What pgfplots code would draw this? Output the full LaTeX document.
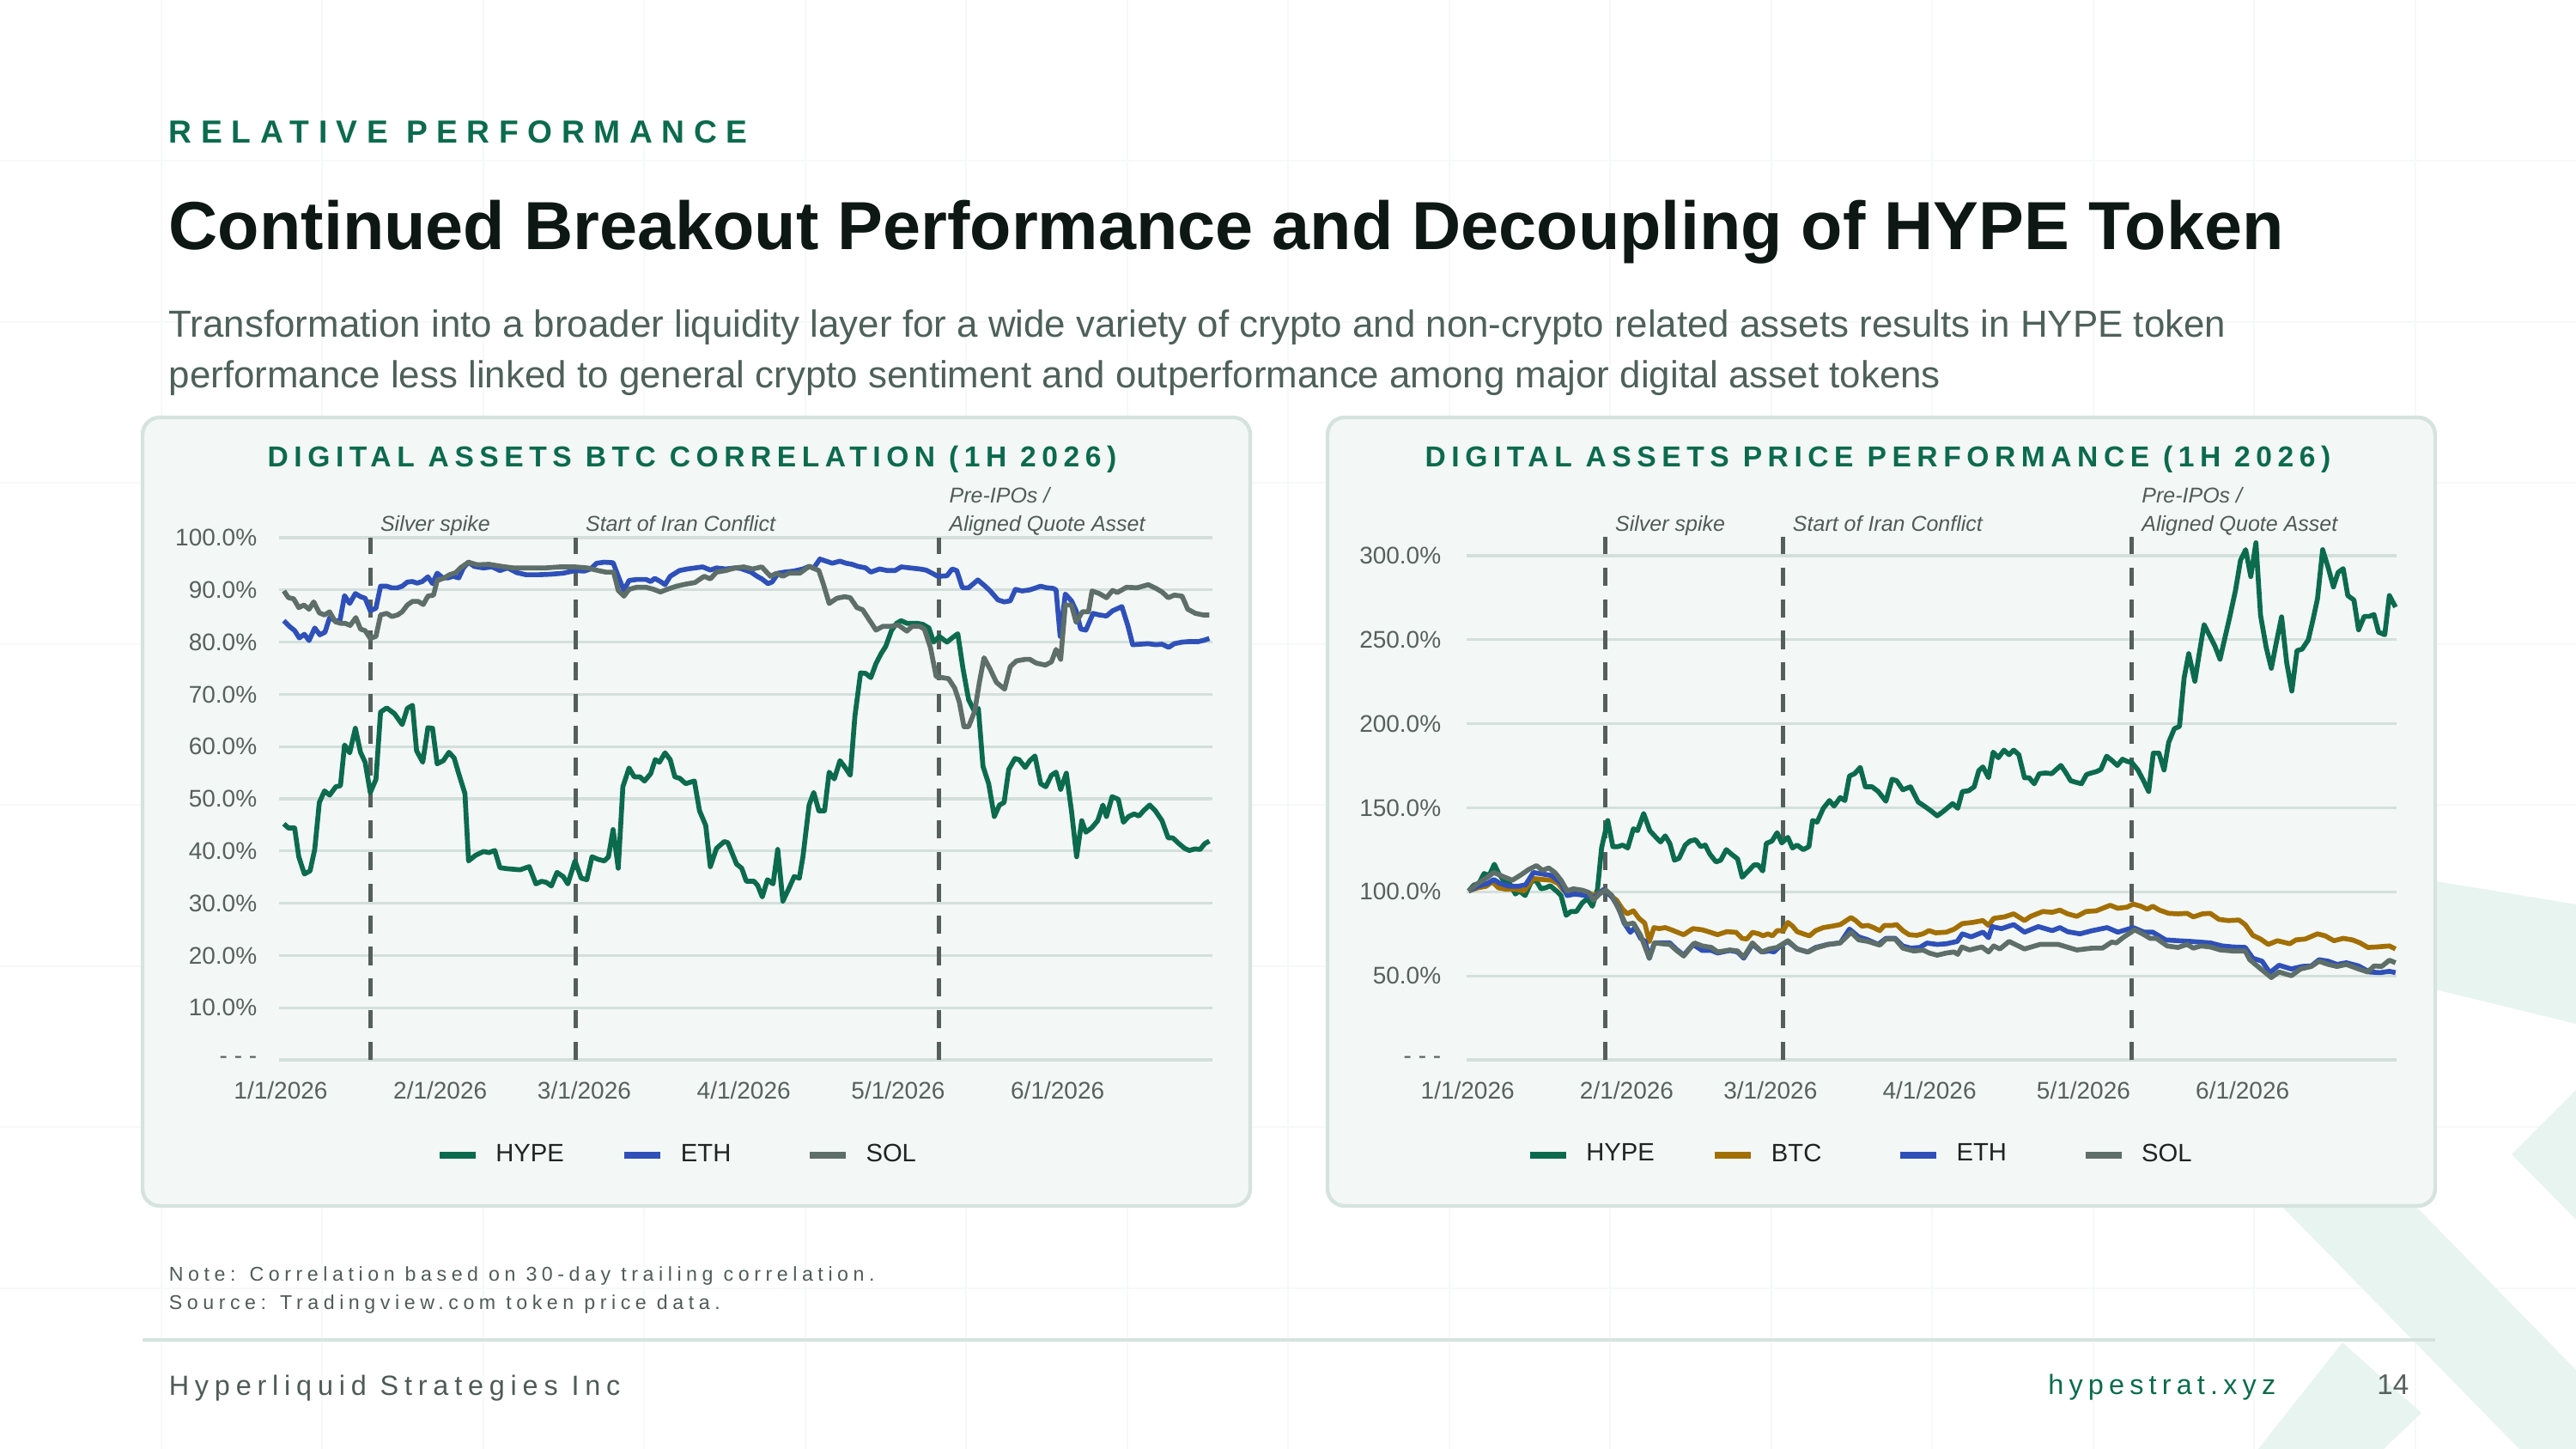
\documentclass[border=0pt]{standalone}
\usepackage{fontspec}
\setmainfont{Liberation Sans}
\usepackage{pgfplots}
\pgfplotsset{compat=1.18}
\definecolor{hype}{HTML}{0B6B4C}
\definecolor{eth}{HTML}{2E50B8}
\definecolor{sol}{HTML}{5E6E69}
\definecolor{btc}{HTML}{A26F02}
\definecolor{dashc}{HTML}{545F5B}
\definecolor{gridc}{HTML}{D3DFDB}
\definecolor{panelf}{HTML}{F3F7F6}
\definecolor{paneld}{HTML}{D5E3DE}
\definecolor{tickc}{HTML}{56615D}
\definecolor{legc}{HTML}{1E2422}
\definecolor{brand}{HTML}{0B6B4C}
\definecolor{titlec}{HTML}{0D1714}
\definecolor{subc}{HTML}{4E605A}
\definecolor{mint}{HTML}{E8F4EF}
\definecolor{bggrid}{HTML}{F6F9F8}
\definecolor{annc}{HTML}{4F5B57}
\pgfplotsset{
  slide/.style={
    scale only axis, clip=false,
    axis line style={draw=none}, tick style={draw=none},
    ymajorgrids, major grid style={draw=gridc, line width=0.8pt},
    xtick={0,31,59,90,120,151},
    xticklabels={1/1/2026,2/1/2026,3/1/2026,4/1/2026,5/1/2026,6/1/2026},
    xticklabel style={font=\fontsize{7}{8}\selectfont, text=tickc, anchor=north, inner sep=0pt, yshift=-6pt},
    yticklabel style={font=\fontsize{7}{8}\selectfont, text=tickc, anchor=east, inner sep=0pt},
    legend columns=-1,
    legend style={draw=none, fill=none, inner sep=0pt, column sep=0pt,
      font=\fontsize{7.3}{8.5}\selectfont, text=legc, nodes={inner sep=2.6pt},
      /tikz/every odd column/.append style={column sep=2.2pt}},
    legend image code/.code={\draw[##1, line width=2.2pt, line cap=butt] (0pt,0pt) -- (10.5pt,0pt);},
  },
  vl/.style={dashc, line width=1.25pt, dash pattern=on 5.3pt off 3.9pt, forget plot},
  ser/.style={line width=1.42pt, line join=round},
}
\newcommand{\ann}{\fontsize{6.25}{7.5}\selectfont\itshape\color{annc}}
\begin{document}
\begin{tikzpicture}
\clip (0,0) rectangle (750pt,421.75pt);
\fill[white] (0,0) rectangle (750pt,421.75pt);
\begin{scope}[x=0.25pt,y=-0.25pt,shift={(0pt,421.75pt)}]
  % faint background grid
  \foreach \k in {1,...,15} {\draw[bggrid, line width=0.5pt] (187.5*\k,0) -- (187.5*\k,1687);}
  \foreach \k in {1,...,8} {\draw[bggrid, line width=0.5pt] (0,187.5*\k) -- (3000,187.5*\k);}
  % decorative logo shapes
  \fill[mint] (2600,1005) -- (2836,1026) -- (3000,1053) -- (3000,1192) -- (2836,1152) -- (2600,1130) -- cycle;
  \fill[mint] (2925,1344) -- (3000,1269) -- (3000,1420) -- cycle;
  \fill[mint] (2560,1300) -- (2700,1300) -- (2813,1404) -- (3000,1595) -- (3000,1687) -- (2934,1687) -- (2657,1404) -- cycle;
  \fill[mint] (2630,1687) -- (2728,1563) -- (2820,1645) -- (2776,1687) -- cycle;
  % panels
  \draw[paneld, fill=panelf, line width=1.1pt, rounded corners=5pt] (166,486) rectangle (1456,1404);
  \draw[paneld, fill=panelf, line width=1.1pt, rounded corners=5pt] (1546,486) rectangle (2836,1404);
  % header texts
  \node[anchor=base west, inner sep=0pt, text=brand, font=\fontsize{9.3}{11}\selectfont\bfseries\addfontfeature{LetterSpace=28.5}] at (196,167) {RELATIVE PERFORMANCE};
  \node[anchor=base west, inner sep=0pt, text=titlec, font=\fontsize{19.8}{24}\selectfont\bfseries] at (196,291) {Continued Breakout Performance and Decoupling of HYPE Token};
  \node[anchor=base west, inner sep=0pt, text=subc, font=\fontsize{10.97}{13}\selectfont] at (196,393) {Transformation into a broader liquidity layer for a wide variety of crypto and non-crypto related assets results in HYPE token};
  \node[anchor=base west, inner sep=0pt, text=subc, font=\fontsize{10.97}{13}\selectfont] at (196,452) {performance less linked to general crypto sentiment and outperformance among major digital asset tokens};
  % panel titles
  \node[anchor=base, inner sep=0pt, text=brand, font=\fontsize{8.4}{10}\selectfont\bfseries\addfontfeature{LetterSpace=19.5}] at (806,544) {DIGITAL ASSETS BTC CORRELATION (1H 2026)};
  \node[anchor=base, inner sep=0pt, text=brand, font=\fontsize{8.4}{10}\selectfont\bfseries\addfontfeature{LetterSpace=19.5}] at (2187,544) {DIGITAL ASSETS PRICE PERFORMANCE (1H 2026)};
  % notes and footer
  \node[anchor=base west, inner sep=0pt, text=annc, font=\fontsize{5.8}{7}\selectfont\addfontfeature{LetterSpace=24}] at (196,1492) {Note: Correlation based on 30-day trailing correlation.};
  \node[anchor=base west, inner sep=0pt, text=annc, font=\fontsize{5.8}{7}\selectfont\addfontfeature{LetterSpace=24}] at (196,1525) {Source: Tradingview.com token price data.};
  \draw[paneld, line width=0.8pt] (166,1560) -- (2836,1560);
  \node[anchor=base west, inner sep=0pt, text=annc, font=\fontsize{8.1}{10}\selectfont\addfontfeature{LetterSpace=21}] at (196,1625) {Hyperliquid Strategies Inc};
  \node[anchor=base east, inner sep=0pt, text=brand, font=\fontsize{8.1}{10}\selectfont\addfontfeature{LetterSpace=19}] at (2651,1624) {hypestrat.xyz};
  \node[anchor=base east, inner sep=0pt, text=tickc, font=\fontsize{8.3}{10}\selectfont] at (2806,1624) {14};
\end{scope}

% ---------------- Left chart ----------------
\begin{axis}[slide,
  at={(81.25pt,113.25pt)}, anchor=south west,
  width=271.75pt, height=152pt,
  xmin=-0.33, xmax=181.1, ymin=0, ymax=100,
  ytick={0,10,20,30,40,50,60,70,80,90,100},
  yticklabels={- - -,10.0\%,20.0\%,30.0\%,40.0\%,50.0\%,60.0\%,70.0\%,80.0\%,90.0\%,100.0\%},
  yticklabel style={xshift=-6.25pt},
  legend style={at={(0.167,-0.1826)}, anchor=west},
]
\addplot[vl] coordinates {(17.4,0) (17.4,100)};
\addplot[vl] coordinates {(57.3,0) (57.3,100)};
\addplot[vl] coordinates {(128.0,0) (128.0,100)};
\addplot[ser, hype] coordinates {(0.6,45.2)(1.5,44.4)(2.7,44.4)(3.5,38.9)(4.6,35.6)(5.7,36.2)(6.6,40.3)(7.5,49.3)(8.5,51.5)(9.5,50.7)(10.7,52.3)(11.6,52.5)(12.4,60.3)(13.4,58.8)(14.5,63.5)(15.5,58.9)(16.4,57)(17.4,51.2)(18.5,53.7)(19.4,66.6)(20.6,67.4)(22.1,66.3)(23.6,64.2)(24.6,67.3)(25.6,67.9)(26.4,59.2)(27.6,57)(28.6,63.6)(29.5,63.5)(30.4,56.7)(31.6,57.3)(32.7,58.9)(33.7,57.8)(34.6,54.8)(35.8,51)(36.5,38.1)(37.9,39.2)(39.4,39.9)(40.5,39.7)(41.6,40.1)(42.6,36.8)(44.1,36.6)(46.5,36.4)(48.3,37)(49.6,33.7)(50.7,34.2)(51.6,34)(52.6,33.3)(53.7,35.9)(54.9,35.1)(55.8,33.7)(57.2,38.1)(58.4,34.8)(59.5,34.5)(60.5,38.9)(61.7,38.4)(62.9,38.1)(63.7,38.9)(64.6,44.1)(65.6,36.7)(66.5,52.3)(67.7,55.9)(68.7,54.2)(69.8,54.2)(70.7,53.4)(71.9,54.8)(72.8,57.5)(73.6,57)(74.7,58.8)(75.7,57.5)(76.6,54.2)(77.6,53.9)(78.7,52.9)(80.4,53.4)(81.4,47.7)(82.6,44.9)(83.5,37)(84.7,40.5)(86.2,41.8)(86.9,41.6)(88.6,37.5)(89.6,36.7)(90.5,34.2)(92,34.2)(92.7,33.4)(93.6,31.2)(94.6,34.5)(95.7,33.7)(96.6,40.3)(97.6,30.4)(98.8,32.9)(99.8,35.1)(100.8,34.8)(101.5,38.9)(102.7,48.8)(103.6,51.2)(104.6,47.7)(105.7,47.7)(106.6,55.1)(107.6,53.8)(108.7,57.3)(109.7,56)(110.7,54.5)(111.6,65.8)(112.7,74.1)(113.7,74)(114.7,73.2)(115.7,75.9)(116.7,77.8)(117.6,79.2)(118.7,82.2)(119.7,83.6)(120.6,84.1)(121.7,83.6)(122.7,83.6)(123.7,83.6)(124.8,83.4)(126,82.7)(126.9,80)(128,81.1)(129.5,80)(130.5,80.8)(131.6,81.6)(132.6,75)(133.7,69)(134.8,66.8)(135.6,67.3)(136.5,56.2)(137.6,52.9)(138.7,46.6)(139.7,48.8)(140.6,49.3)(141.5,55.6)(142.7,57.7)(143.5,57.5)(144.7,56)(145.6,57.3)(146.6,58.2)(147.7,52.9)(148.7,52.3)(149.8,54.5)(150.7,55.1)(151.6,51.8)(152.7,54.9)(153.7,47.7)(154.7,38.9)(155.7,45.8)(156.5,43.6)(157.6,44.4)(158.8,45.8)(159.8,48.8)(160.5,46.6)(161.6,50.4)(162.8,49.9)(163.8,45.5)(164.8,46.6)(165.9,47.1)(166.8,46.7)(167.8,47.8)(168.9,48.8)(170,47.7)(171.3,45.8)(172.5,42.5)(173.4,42.5)(174.6,41.4)(175.7,40.5)(176.6,40.1)(177.7,40.4)(178.7,40.3)(179.6,41.4)(180.5,41.9)};
\addlegendentry{\makebox[33.8pt][l]{HYPE}}
\addplot[ser, eth] coordinates {(0.6,84.1)(1.7,83)(2.7,82.2)(3.6,80.8)(4.6,81.5)(5.5,80.3)(6.6,82.7)(7.6,81.4)(8.6,81.9)(9.5,84.7)(10.6,84.1)(11.5,84.1)(12.4,88.9)(13.4,87.4)(14.5,89.3)(15.5,88.7)(16.4,88.4)(17.4,86)(18.5,86.5)(19.4,90.7)(20.6,90.7)(21.5,90.4)(22.7,90.4)(23.6,90.7)(24.6,91.5)(25.6,91.6)(26.5,91.3)(27.5,91.6)(28.6,92.5)(29.5,91.2)(30.4,93.2)(31.5,92.3)(32.5,92.3)(33.5,92.6)(34.6,92.3)(35.5,94.2)(36.5,95.3)(37.6,94.5)(39.4,94.2)(41.1,94.4)(42.6,93.7)(44.1,94.2)(45.9,93.3)(47.7,92.9)(50.1,92.9)(52.5,93)(54.9,93.2)(57.2,93.7)(59,93.6)(60.2,94)(61.4,95.1)(62.9,95.3)(64.6,95.2)(65.6,92.6)(66.7,89.9)(67.7,91.8)(69.2,92)(71,92)(71.9,91.6)(72.7,92.2)(73.8,91.6)(74.7,91)(75.7,92.6)(77.5,93.7)(79,94)(80.5,94.2)(82,94.4)(83.5,93.8)(84.7,94.2)(86.5,94)(88.3,94.2)(89.4,94.1)(91.4,93.4)(92.6,92.6)(93.5,92.1)(94.7,91.2)(95.5,91.5)(96.7,93.2)(97.9,93.4)(99.7,93.6)(101.5,94)(102.7,94.5)(103.6,94.2)(104.8,95.9)(106,95.5)(107.2,95.1)(108.7,95.5)(109.9,95.1)(111,94.9)(112.2,94.5)(113.7,94.2)(114.7,93.4)(116.4,94)(117.9,93.7)(119.4,93.7)(120.6,94.4)(122.4,94.2)(124.2,94)(125.4,93.8)(126.6,93.2)(127.7,92.6)(129.5,92.7)(130.5,94)(131.4,93.7)(132.5,90.4)(133.7,90.4)(135.5,91.9)(136.7,90.9)(137.9,89.8)(139.4,88.1)(140.6,87.7)(141.8,87.9)(142.8,90.1)(144.1,89.8)(145.6,90)(147.7,90.7)(148.9,90.4)(150.1,90.3)(150.7,90)(151.5,81.1)(152.5,89.2)(153.7,87.9)(154.6,86)(155.5,82.5)(156.5,82.3)(157.9,85.5)(159.1,85.2)(160.5,85)(161.7,86)(163.5,86.8)(164.7,83)(165.6,79.5)(167.1,79.6)(168.6,79.7)(170.1,79.5)(171.3,79.6)(172.6,79)(173.7,79.7)(175.2,80)(176.6,80.1)(178.4,80.1)(179.6,80.4)(180.5,80.7)};
\addlegendentry{\makebox[33.8pt][l]{ETH}}
\addplot[ser, sol] coordinates {(0.6,89.8)(1.5,88.5)(2.5,88.3)(3.5,86.6)(4.5,87.1)(5.5,86.3)(6.4,87.7)(7.5,85.6)(8.5,85.2)(9.5,85.8)(10.6,83.9)(11.6,83.6)(12.5,83.6)(13.5,83.2)(14.6,84.7)(15.5,82.5)(16.4,82.2)(17.4,80.7)(18.5,81.1)(19.4,85.2)(20.6,85.5)(21.6,84.9)(22.7,85.2)(23.6,85.8)(24.6,87.1)(25.6,87.8)(26.7,87.8)(27.7,87.2)(28.6,88.8)(29.7,89)(30.4,91.8)(31.6,92.2)(32.8,92.9)(34,93.3)(34.9,94.2)(36.5,95.3)(38.2,94.8)(40.5,94.9)(42.9,94.5)(45.3,94.2)(48.3,94.2)(51.3,94.2)(54.3,94.4)(57.2,94.4)(59.6,94.2)(61.7,93.7)(63.2,93.4)(64.7,93.4)(65.6,89.9)(66.7,88.8)(67.7,90.1)(69.2,90.5)(71,90.5)(72.5,90.1)(73.8,89.6)(75.1,90.1)(76.9,90.7)(78.7,91.1)(80.5,91.4)(82.3,92.6)(83.5,92.1)(84.7,93.4)(86.5,93.7)(88.3,94.2)(90,94.4)(91.7,94)(93.5,94.4)(95.2,92.6)(96.4,93.2)(97.6,92.6)(98.8,93.2)(100.9,93.2)(102.7,94.5)(104.6,93.7)(105.6,90.7)(106.6,87.4)(108.1,88.4)(109.6,88.7)(110.7,88.5)(112,86.6)(113.1,86.2)(114.3,84.4)(115.7,82.3)(117,83)(118.5,83)(120,83.3)(121.7,82.1)(122.7,83)(124.2,83)(125.1,82.5)(126.3,78.9)(127.4,73.4)(128.6,73.2)(129.8,73)(131,71.2)(131.9,68.5)(132.8,63.8)(133.7,63.8)(134.9,66.8)(135.8,72.3)(136.7,77)(137.9,74.8)(139.1,72.3)(140.7,71)(141.8,75.3)(143,76.4)(144.7,76.7)(145.6,76.7)(146.8,76)(148.6,75.6)(149.8,76.2)(150.7,78.6)(151.6,76.7)(152.5,87.1)(153.7,87.1)(154.6,83.8)(155.8,85.8)(157,85.8)(157.7,89.8)(159.1,89.3)(160.5,88.5)(161.7,89.9)(162.6,89.5)(164.4,90.5)(166.5,90.4)(168.6,91)(170.1,90.3)(171.3,89.6)(172.5,88.5)(173.7,89)(175.2,88.8)(176.3,86.3)(177.8,85.5)(179.3,85.2)(180.5,85.2)};
\addlegendentry{\makebox[33.8pt][l]{SOL}}
\node[anchor=base west, inner sep=0pt, xshift=2.75pt, font=\ann] at (axis cs:17.4,101.3) {Silver spike};
\node[anchor=base west, inner sep=0pt, xshift=2.75pt, font=\ann] at (axis cs:57.3,101.3) {Start of Iran Conflict};
\node[anchor=base west, inner sep=0pt, xshift=2.75pt, font=\ann] at (axis cs:128.0,106.6) {Pre-IPOs /};
\node[anchor=base west, inner sep=0pt, xshift=2.75pt, font=\ann] at (axis cs:128.0,101.3) {Aligned Quote Asset};
\end{axis}

% ---------------- Right chart ----------------
\begin{axis}[slide,
  at={(427pt,113.25pt)}, anchor=south west,
  width=270.75pt, height=146.75pt,
  xmin=-0.2, xmax=181, ymin=0, ymax=300,
  ytick={0,50,100,150,200,250,300},
  yticklabels={- - -,50.0\%,100.0\%,150.0\%,200.0\%,250.0\%,300.0\%},
  yticklabel style={xshift=-7.25pt},
  legend style={at={(0.0633,-0.189)}, anchor=west},
]
\addplot[vl] coordinates {(26.8,0) (26.8,311)};
\addplot[vl] coordinates {(61.4,0) (61.4,311)};
\addplot[vl] coordinates {(129.4,0) (129.4,311)};
\addplot[ser, hype] coordinates {(0.2,100.5)(1.2,104)(2.2,105)(3.2,110.9)(4.2,109.7)(5.2,116.4)(6.1,110.6)(7.2,106)(8.2,105)(9.3,98.7)(10.1,100.5)(11.2,97.8)(12.4,106)(13.3,106.9)(14.3,101.8)(15.2,102.4)(16.1,103.6)(17.3,100.5)(18.2,97.8)(19.2,86)(20.1,88.3)(21.2,88.3)(22.3,93.3)(23.3,96)(24.3,91.4)(25.3,101.5)(26.1,126.1)(27.3,142.4)(28.3,126.9)(29.3,126.9)(30.2,127.8)(31.2,126.1)(32.3,137.5)(33.1,136.4)(34.3,146.6)(35.5,136.4)(36.7,132.4)(37.6,129.7)(38.5,133.3)(39.4,128.8)(40.3,118.8)(41.2,120)(42.4,127.8)(43.3,130.2)(44.4,131)(45.4,126.9)(46.3,127.8)(47.2,122.4)(48.4,117.8)(49.3,118.8)(50.4,125.1)(51.4,122.4)(52.6,119.6)(53.5,108.7)(54.7,112.4)(55.8,116)(56.6,116)(57.5,112.4)(58.2,128.8)(59.3,130.2)(60.3,135.2)(61.2,129.1)(62.4,132.4)(63.3,126.1)(64.2,127.8)(65.4,125.1)(66.5,126.9)(67.2,142.4)(68.1,141.5)(69.3,149.7)(70.5,154.3)(71.4,151)(72.6,156.1)(73.5,154.3)(74.4,168.9)(75.4,170.3)(76.5,174)(77.5,162.5)(78.8,162.5)(80,159.7)(81.5,153.9)(82.7,167)(83.6,166.1)(84.8,160.7)(86.3,162.5)(87.8,153.4)(89,151)(90.4,147.9)(91.5,145.2)(92.7,147.9)(94.5,152.5)(95.5,149.7)(96.4,159.7)(97.6,160.1)(98.7,162.5)(99.6,172.1)(100.4,174.3)(101.5,167.9)(102.4,183.1)(103.4,179.8)(104.5,184.3)(105.5,181.6)(106.4,184.3)(107.4,181.6)(108.5,167.9)(109.4,167.9)(110.4,164.3)(111.4,170.3)(112.6,170.7)(113.8,170.3)(114.6,172.5)(115.6,175.2)(116.6,170.7)(117.5,166.1)(118.5,165.2)(119.6,164.3)(120.6,169.8)(121.5,170.7)(122.6,171.6)(123.4,172.9)(124.5,180.7)(125.5,178.3)(126.6,175.2)(127.6,178.9)(128.5,177.6)(129.4,177)(130.6,172.5)(131.7,166.1)(132.7,159.7)(133.6,182.5)(134.7,182.5)(135.7,172.5)(136.6,188.9)(137.7,197.1)(138.7,198.4)(139.6,227.1)(140.5,241.7)(141.7,225.3)(142.6,242.6)(143.5,259)(144.7,251.7)(145.6,246.3)(146.6,238.4)(147.6,251.7)(148.5,263.6)(149.6,279.1)(150.6,297.3)(151.6,303.6)(152.6,287.6)(153.6,307.7)(154.5,264.5)(155.6,245.4)(156.6,233)(157.5,247.2)(158.6,263.6)(159.6,236.2)(160.6,219.5)(161.6,243.5)(162.6,244.4)(163.8,249.9)(164.7,261.7)(165.6,274.5)(166.6,303.6)(167.7,292.7)(168.7,281.4)(169.6,290)(170.6,292.3)(171.5,276.3)(172.7,273.6)(173.6,255.9)(174.7,263.9)(175.7,263.9)(176.6,265)(177.5,254.5)(178.7,253)(179.6,276.3)(180.8,269.4)};
\addlegendentry{\makebox[33.8pt][l]{HYPE}}
\addplot[ser, btc] coordinates {(0.2,100.5)(2,102.4)(3.6,103.3)(4.8,106)(6,102.4)(7.5,101.5)(9.3,101.5)(11,100.5)(12.8,107.9)(14.6,107.3)(16.4,106.9)(17.6,105)(18.8,100.5)(20,101.1)(21.8,100.5)(23.3,99.6)(24.8,97.8)(26.6,101.5)(27.8,97.8)(29,95.1)(30.2,89.6)(31.1,86.9)(32.3,88.7)(33.4,84.2)(34.5,81.4)(35.4,70.5)(36.3,78.7)(37.3,78.1)(38.5,78.7)(39.7,77.4)(40.9,75.9)(42.1,74.5)(43.9,78.1)(45.7,77.4)(46.9,76.3)(48.7,74.5)(50.5,76.3)(52.3,75.9)(53.5,72.3)(54.4,71.9)(55.5,75.9)(56.7,75)(57.6,73.8)(58.5,75)(59.4,73.8)(60.3,76.9)(61.5,76.9)(62.4,81.8)(63.3,79.6)(64.2,76.3)(65.4,75)(66.6,73.8)(67.8,76.9)(69.3,78.7)(71.1,79.6)(72.6,80.5)(73.5,82.3)(74.7,84.7)(75.6,82.9)(76.8,79.6)(78,80)(79.1,78.7)(80.3,76.9)(81.2,80)(82.7,80)(83.6,80.5)(84.8,76.9)(86,74.5)(87.5,74.1)(88.7,75)(89.9,76.9)(91.2,75.6)(93.3,76)(94.8,77.8)(96.4,81.1)(98.4,81.8)(100.4,82.9)(101.5,80)(102.5,84.2)(104.6,85.1)(106.4,86.9)(108.5,82.9)(109.7,85.4)(112.1,88.3)(113.9,87.8)(115.4,89.1)(116.9,86.9)(118.7,85.4)(120.5,88.3)(122.5,88.7)(125.2,92)(126.7,90.2)(128.5,90.9)(129.7,92.7)(131.2,91.4)(132.4,89.6)(133.5,91.4)(134.8,89.1)(136.6,87.2)(138.4,86.9)(140.2,87.2)(141.4,85.1)(143.2,86.9)(144.7,87.2)(146.4,83.6)(148.2,82.9)(150.3,83.2)(151.5,80.5)(153,74.1)(154.5,71.9)(156,68.7)(157.8,70.9)(160.2,69.1)(161.4,71.4)(163.2,71.9)(165.6,75)(167.1,73.8)(168.8,70.9)(170.6,72.3)(172.4,71.4)(173.9,69.6)(175.4,66.9)(177.2,67.2)(179.6,67.8)(180.8,66)};
\addlegendentry{\makebox[33.8pt][l]{BTC}}
\addplot[ser, eth] coordinates {(0.2,100.5)(2,103.3)(3.9,105)(5.1,107.3)(6.3,105)(8.1,103.3)(9.9,103.3)(11.3,104.2)(12.8,111.5)(14.6,110.6)(16.4,109.7)(18.2,105)(19.4,97.8)(20.9,98.7)(23,97.8)(24.8,96.9)(26.6,101.5)(28.1,96.9)(29.3,91.4)(30.5,81.4)(31.7,75.9)(32.6,78.7)(33.7,72.3)(34.6,70.5)(35.4,60.5)(36.4,69.6)(37.9,69.6)(39.4,69.6)(40.6,66)(42.1,62.3)(43.9,68.7)(45.7,65.1)(47.5,65.1)(48.7,63.6)(51.1,65.1)(52.6,64.2)(53.8,60.5)(55.5,68.7)(57.3,64.2)(58.8,64.8)(59.7,64.2)(60.9,67.8)(62.4,70.5)(64.2,66)(66.3,64.2)(67.8,66.9)(70.2,68.7)(72.6,69.6)(74.4,77.8)(76.2,73.2)(78,71.4)(80,68.7)(81.5,72.3)(83.3,72.3)(84.8,67.8)(86.3,66.5)(88.1,66.9)(89.5,69.5)(91.5,68.7)(93.3,69.1)(95.4,70.5)(96.4,75)(98.1,73.2)(100.4,76)(101.5,72.7)(102.2,79.3)(104,78.1)(106.4,80.5)(108.5,76)(111.2,79.3)(113.9,76.9)(115.4,78.7)(116.9,76.3)(119.3,75)(121.7,76.9)(124.6,78.7)(126.7,76)(129.7,78.7)(131.8,76)(133.5,76)(136,71.4)(138.4,70.9)(140.8,70.5)(142.6,70.1)(144.7,69.6)(147,67.8)(149.1,67.2)(151.5,66.9)(153,60.5)(154.8,58.7)(156.3,51.9)(158.1,56.3)(160.5,54.1)(162.6,55.6)(164.4,55.9)(165.9,59.6)(167.7,58.7)(169.4,56.8)(171.2,57.8)(173.6,55.9)(175.7,52.3)(177.8,51.9)(179.6,52.7)(180.8,51.9)};
\addlegendentry{\makebox[33.8pt][l]{ETH}}
\addplot[ser, sol] coordinates {(0.2,100.5)(2,105)(3.9,108.7)(5.1,111.5)(6.9,109.1)(8.7,106.9)(10.4,110.1)(11.9,113.3)(13.4,115.6)(14.6,112.8)(15.8,114.2)(17,111.5)(18.2,106.9)(19.4,100.5)(20.6,101.8)(22.4,100.9)(23.6,99.6)(24.5,95.1)(25.7,98.7)(26.9,101.1)(28.1,97.8)(29.6,88.7)(30.8,80.5)(32.3,81.4)(33.7,74.1)(35.4,60.5)(36.4,69.6)(37.9,69.1)(39.4,68.7)(40.6,65.4)(42.1,61.8)(44.2,69.6)(45.7,67.8)(47.5,66.9)(48.7,64.2)(51.1,65.4)(52.6,64.8)(53.8,61.2)(55.5,69.6)(57.3,64.2)(58.8,66)(60.3,66.9)(62.4,70.9)(64.2,66)(66.3,64.2)(67.8,66.5)(70.2,68.7)(72.6,69.6)(74.7,75.9)(76.2,71.4)(78,70.5)(80.3,68.3)(81.5,71.9)(83.3,71.9)(84.8,66.5)(86.9,64.8)(88.8,65.3)(90,63.5)(91.5,62.3)(93.3,63.6)(94.8,64.2)(95.5,62.8)(96.3,67.2)(97.8,65.4)(100.2,67.2)(101.5,64.2)(102.5,67.8)(103.7,66)(105.5,70.5)(108.5,66)(111.5,68.7)(115.1,68.7)(118.7,65.4)(121.7,66.5)(123.7,66.5)(125.5,70.1)(126.4,69.6)(127.9,73.2)(130,77.4)(131.5,75)(133,72.3)(134.2,72.3)(136.3,67.8)(138.4,66.9)(140.2,68.7)(141.4,66.5)(142.9,67.8)(144.7,67.2)(146.7,65.4)(149.1,64.8)(151.5,64.8)(152.4,59.6)(154.2,55)(156.6,49)(158.1,52.3)(160.5,50.1)(162.3,54.1)(164.4,55.6)(165.9,58.7)(167.7,56.8)(169.4,55.6)(171.2,56.8)(173.6,54.1)(175.4,52.3)(176.6,55.9)(178.1,55.6)(179.6,59.3)(180.8,57.8)};
\addlegendentry{\makebox[33.8pt][l]{SOL}}
\node[anchor=base west, inner sep=0pt, xshift=2.75pt, font=\ann] at (axis cs:26.8,314.8) {Silver spike};
\node[anchor=base west, inner sep=0pt, xshift=2.75pt, font=\ann] at (axis cs:61.4,314.8) {Start of Iran Conflict};
\node[anchor=base west, inner sep=0pt, xshift=2.75pt, font=\ann] at (axis cs:129.4,331.2) {Pre-IPOs /};
\node[anchor=base west, inner sep=0pt, xshift=2.75pt, font=\ann] at (axis cs:129.4,314.8) {Aligned Quote Asset};
\end{axis}
\end{tikzpicture}
\end{document}
